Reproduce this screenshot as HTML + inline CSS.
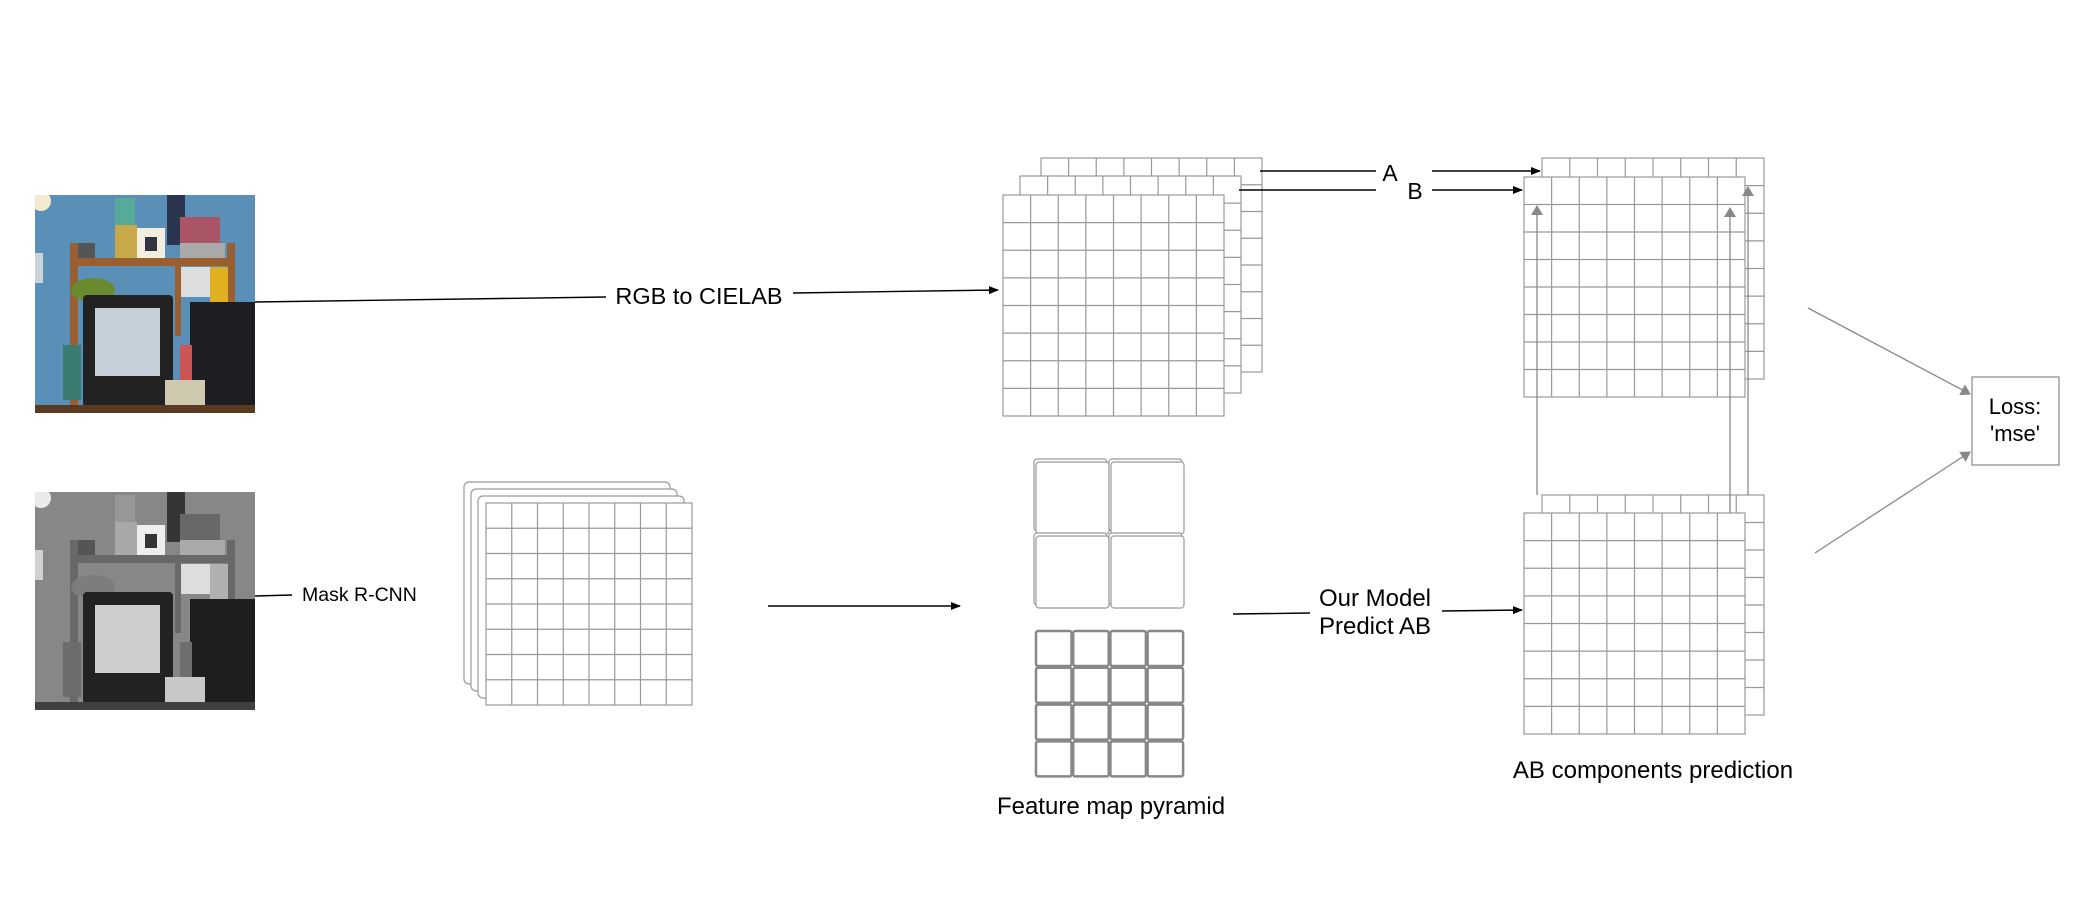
<!DOCTYPE html>
<html><head><meta charset="utf-8"><style>
html,body{margin:0;padding:0;background:#fff;}
svg{display:block;}
text{font-family:"Liberation Sans",sans-serif;fill:#000;}
</style></head><body>
<svg id="s" width="2084" height="910" xmlns="http://www.w3.org/2000/svg">
<defs>
<marker id="ab" markerWidth="10" markerHeight="8" refX="9" refY="4" orient="auto" markerUnits="userSpaceOnUse"><path d="M0,0 L10,4 L0,8 z" fill="#000"/></marker>
<marker id="ag" markerWidth="10" markerHeight="12" refX="9" refY="6" orient="auto" markerUnits="userSpaceOnUse"><path d="M0,0 L10,6 L0,12 z" fill="#888"/></marker>
<clipPath id="pc"><rect x="0" y="0" width="220" height="218"/></clipPath>
<g id="photo" clip-path="url(#pc)">
<rect x="0" y="0" width="220" height="218" fill="#5a8fb8"/>
<circle cx="6" cy="6" r="10" fill="#f4ead0"/>
<rect x="0" y="58" width="8" height="30" fill="#c9d3d8"/>
<rect x="80" y="3" width="20" height="40" fill="#5a9"/>
<rect x="132" y="0" width="18" height="50" fill="#2a3550"/>
<rect x="80" y="30" width="22" height="35" fill="#c9a84a"/>
<rect x="102" y="33" width="28" height="32" fill="#f2eee0"/>
<rect x="110" y="42" width="12" height="14" fill="#334"/>
<rect x="145" y="22" width="40" height="30" fill="#a56"/>
<rect x="38" y="48" width="22" height="18" fill="#555"/>
<rect x="145" y="48" width="45" height="17" fill="#aaa"/>
<rect x="35" y="48" width="8" height="170" fill="#9a5f30"/>
<rect x="192" y="48" width="8" height="100" fill="#9a5f30"/>
<rect x="35" y="63" width="165" height="8" fill="#9a5f30"/>
<rect x="140" y="71" width="6" height="70" fill="#9a5f30"/>
<rect x="146" y="72" width="45" height="30" fill="#ddd"/>
<rect x="175" y="72" width="18" height="35" fill="#e0b020"/>
<ellipse cx="58" cy="95" rx="22" ry="12" fill="#6a8a30"/>
<rect x="48" y="100" width="90" height="112" rx="4" fill="#222"/>
<rect x="60" y="113" width="65" height="68" fill="#c5d0d8"/>
<rect x="155" y="107" width="65" height="108" fill="#1e1e22"/>
<rect x="28" y="150" width="18" height="55" fill="#3a7a70"/>
<rect x="145" y="150" width="12" height="40" fill="#c55"/>
<rect x="130" y="185" width="40" height="30" fill="#cfc9b0"/>
<rect x="0" y="210" width="220" height="8" fill="#5a3b22"/>
</g>
</defs>
<use href="#photo" x="35" y="195"/>
<use href="#photo" x="35" y="492" style="filter:grayscale(1)"/>
<g id="dyn"></g>

<g stroke="#000" stroke-width="1.4" fill="none">
<line x1="255" y1="302" x2="606" y2="297"/>
<line x1="793" y1="293" x2="998" y2="290" marker-end="url(#ab)"/>
<line x1="255" y1="596" x2="292" y2="595"/>
<line x1="768" y1="606" x2="960" y2="606" marker-end="url(#ab)"/>
<line x1="1260" y1="171" x2="1376" y2="171"/>
<line x1="1432" y1="171" x2="1540" y2="171" marker-end="url(#ab)"/>
<line x1="1239" y1="190" x2="1376" y2="190"/>
<line x1="1432" y1="190" x2="1522" y2="190" marker-end="url(#ab)"/>
<line x1="1233" y1="614" x2="1310" y2="613"/>
<line x1="1442" y1="611" x2="1522" y2="610" marker-end="url(#ab)"/>
</g>
<text x="699" y="304" font-size="23.5" text-anchor="middle">RGB to CIELAB</text>
<text x="302" y="601" font-size="19.5">Mask R-CNN</text>
<text x="1390" y="181" font-size="23" text-anchor="middle">A</text>
<text x="1415" y="199" font-size="23" text-anchor="middle">B</text>
<text x="1375" y="606" font-size="24" text-anchor="middle">Our Model</text>
<text x="1375" y="634" font-size="24" text-anchor="middle">Predict AB</text>
<text x="1111" y="814" font-size="24" text-anchor="middle">Feature map pyramid</text>
<text x="1653" y="778" font-size="24" text-anchor="middle">AB components prediction</text>
<rect x="1972" y="377" width="87" height="88" fill="#fff" stroke="#888" stroke-width="1.2"/>
<text x="2015" y="414" font-size="22" text-anchor="middle">Loss:</text>
<text x="2015" y="441" font-size="22" text-anchor="middle">'mse'</text>
<g id="garr" stroke="#888" stroke-width="1.3" fill="none">
<line x1="1808" y1="308" x2="1970" y2="394" marker-end="url(#ag)"/>
<line x1="1815" y1="553" x2="1970" y2="452" marker-end="url(#ag)"/>
</g>
</svg>
<script>
var NS="http://www.w3.org/2000/svg",g=document.getElementById('dyn');
function el(t,a){var e=document.createElementNS(NS,t);for(var k in a)e.setAttribute(k,a[k]);g.appendChild(e);return e;}
function grid(x,y,w,h,n,m,c,sw){
 el('rect',{x:x,y:y,width:w,height:h,fill:'#fff',stroke:c,'stroke-width':sw});
 for(var i=1;i<n;i++)el('line',{x1:x+w*i/n,y1:y,x2:x+w*i/n,y2:y+h,stroke:c,'stroke-width':sw});
 for(var j=1;j<m;j++)el('line',{x1:x,y1:y+h*j/m,x2:x+w,y2:y+h*j/m,stroke:c,'stroke-width':sw});
}
var C='#999';
el('rect',{x:464,y:482,width:206,height:202,rx:5,fill:'#fff',stroke:C,'stroke-width':1.2});
el('rect',{x:471,y:489,width:206,height:202,rx:5,fill:'#fff',stroke:C,'stroke-width':1.2});
el('rect',{x:478,y:496,width:206,height:202,rx:5,fill:'#fff',stroke:C,'stroke-width':1.2});
grid(486,503,206,202,8,8,C,1.2);
grid(1041,158,221,214,8,8,C,1.2);
grid(1020,176,221,217,8,8,C,1.2);
grid(1003,195,221,221,8,8,C,1.2);
grid(1542,158,222,221,8,8,C,1.2);
grid(1524,177,221,220,8,8,C,1.2);
grid(1542,495,222,220,8,8,C,1.2);
grid(1524,513,221,221,8,8,C,1.2);
[[1034,459],[1109,459],[1034,533],[1109,533]].forEach(function(p){
 el('rect',{x:p[0],y:p[1],width:73,height:72,rx:3,fill:'#fff',stroke:C,'stroke-width':1.2});
 el('rect',{x:p[0]+2,y:p[1]+3,width:73,height:72,rx:3,fill:'#fff',stroke:C,'stroke-width':1.2});
});
for(var i=0;i<4;i++)for(var j=0;j<4;j++)
 el('rect',{x:1036+i*37.2,y:631+j*36.8,width:35.5,height:35,rx:2,fill:'#fff',stroke:'#888','stroke-width':2.5});
var ga=document.getElementById('garr');
function gl(x,y1,y2){var e=document.createElementNS(NS,'line');e.setAttribute('x1',x);e.setAttribute('y1',y1);e.setAttribute('x2',x);e.setAttribute('y2',y2);e.setAttribute('marker-end','url(#ag)');ga.appendChild(e);}
gl(1537,495,206);gl(1730,513,208);gl(1748,495,187);
</script>
</body></html>
